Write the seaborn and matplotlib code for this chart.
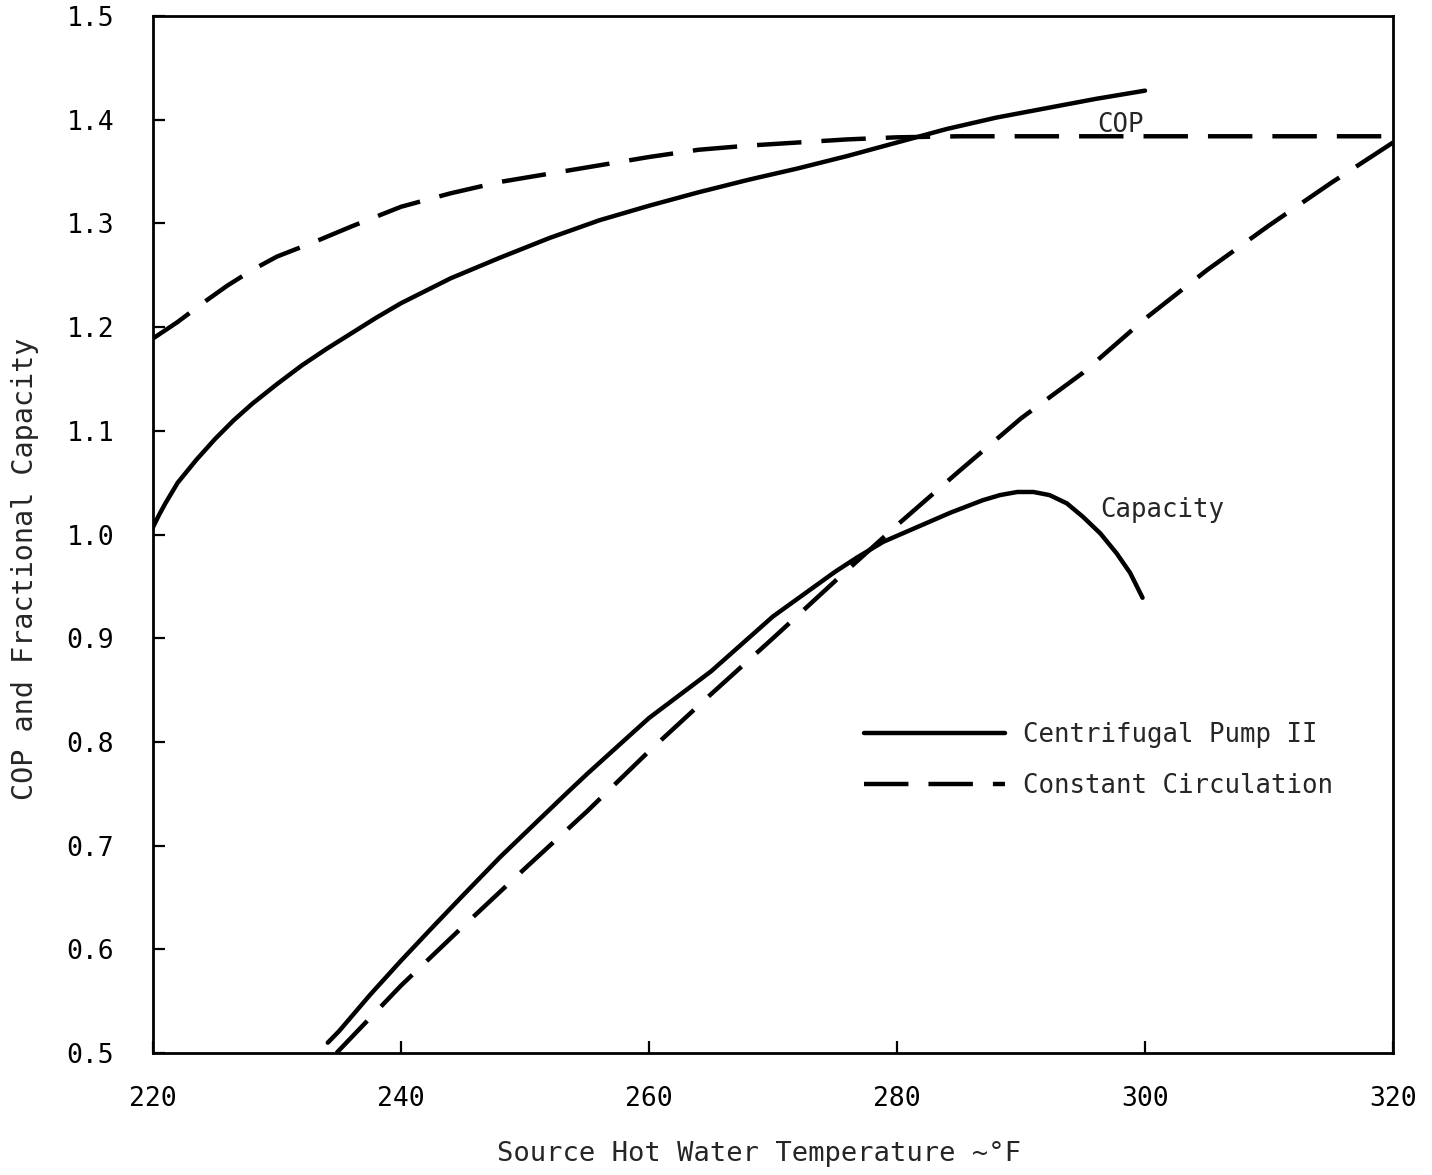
import numpy as np
import pandas as pd
import matplotlib
matplotlib.use("Agg")
import matplotlib.pyplot as plt
import seaborn as sns

# ---- data ----
cop_pump_x = [220, 220.5, 221, 222, 223.5, 225, 226.5, 228, 230, 232, 234, 236, 238, 240,
              244, 248, 252, 256, 260, 264, 268, 272, 276, 280, 284, 288, 292, 296, 300]
cop_pump_y = [1.007, 1.019, 1.030, 1.050, 1.072, 1.092, 1.110, 1.126, 1.145, 1.163, 1.179,
              1.194, 1.209, 1.223, 1.247, 1.267, 1.286, 1.303, 1.317, 1.330, 1.342, 1.353,
              1.365, 1.378, 1.391, 1.402, 1.411, 1.420, 1.428]

cop_const_x = [220, 222, 224, 226, 228, 230, 233, 236, 240, 244, 248, 252, 256, 260,
               264, 268, 272, 276, 280, 285, 290, 300, 310, 320]
cop_const_y = [1.189, 1.205, 1.223, 1.240, 1.255, 1.268, 1.282, 1.297, 1.316, 1.329, 1.340,
               1.348, 1.356, 1.364, 1.371, 1.375, 1.378, 1.381, 1.383, 1.384, 1.384, 1.384,
               1.384, 1.384]

cap_pump_x = [234.1, 235, 237.5, 240, 242.6, 245, 248, 250, 253.4, 255, 258.7, 260, 265,
              270, 275, 276.8, 278.9, 281.6, 284.3, 286.9, 288.3, 289.7, 291, 292.3, 293.7,
              295, 296.4, 297.7, 298.8, 299.8]
cap_pump_y = [0.510, 0.521, 0.556, 0.589, 0.622, 0.652, 0.689, 0.712, 0.751, 0.769, 0.809,
              0.823, 0.868, 0.921, 0.964, 0.978, 0.993, 1.007, 1.021, 1.033, 1.038, 1.041,
              1.041, 1.038, 1.030, 1.017, 1.001, 0.982, 0.963, 0.939]

cap_const_x = [234.8, 240, 245, 250, 255, 260, 265, 270, 275, 280, 285, 290, 295, 300,
               305, 310, 315, 320]
cap_const_y = [0.500, 0.565, 0.622, 0.678, 0.733, 0.791, 0.846, 0.900, 0.955, 1.009, 1.061,
               1.112, 1.156, 1.208, 1.255, 1.298, 1.339, 1.378]

series_labels = ["Centrifugal Pump II", "Constant Circulation"]
x_ticks = [220, 240, 260, 280, 300, 320]
y_ticks = [0.5, 0.6, 0.7, 0.8, 0.9, 1.0, 1.1, 1.2, 1.3, 1.4, 1.5]

# ---- style ----
sns.set_style("ticks")
plt.rcParams['font.family'] = ['DejaVu Sans Mono', 'DejaVu Sans']
plt.rcParams['lines.solid_joinstyle'] = 'round'
plt.rcParams['lines.solid_capstyle'] = 'round'

fig = plt.figure(figsize=(14.32, 11.75), dpi=100)
ax = fig.add_axes([0.1068, 0.1038, 0.866, 0.8826])

lw = 3.2
dash = (0, (10, 4.5))

sns.lineplot(x=cop_pump_x, y=cop_pump_y, ax=ax, color="black", lw=lw,
             label=series_labels[0], sort=False, estimator=None)
sns.lineplot(x=cop_const_x, y=cop_const_y, ax=ax, color="black", lw=lw,
             linestyle=dash, label=series_labels[1], sort=False, estimator=None)
sns.lineplot(x=cap_pump_x, y=cap_pump_y, ax=ax, color="black", lw=lw,
             sort=False, estimator=None, legend=False)
sns.lineplot(x=cap_const_x, y=cap_const_y, ax=ax, color="black", lw=lw,
             linestyle=dash, sort=False, estimator=None, legend=False)

ax.set_xlim(220, 320)
ax.set_ylim(0.5, 1.5)
ax.set_xticks(x_ticks)
ax.set_yticks(y_ticks)
ax.set_xticklabels([str(v) for v in x_ticks])
ax.set_yticklabels([f"{v:.1f}" for v in y_ticks])

for s in ax.spines.values():
    s.set_linewidth(2.0)
    s.set_color("black")

ax.tick_params(axis="both", direction="in", length=8.5, width=1.6,
               labelsize=19, colors="black")
ax.tick_params(axis="x", pad=24)
ax.tick_params(axis="y", pad=28)

ax.set_xlabel("Source Hot Water Temperature ~°F", fontsize=19.5)
ax.set_ylabel("COP and Fractional Capacity", fontsize=20.5)
ax.xaxis.set_label_coords(0.489, -0.085)
ax.yaxis.set_label_coords(-0.092, 0.467)

ax.text(298.0, 1.395, "COP", fontsize=18.5, ha="center", va="center")
ax.text(296.4, 1.024, "Capacity", fontsize=18.5, ha="left", va="center")

handles, labels = ax.get_legend_handles_labels()
ax.legend(handles, labels, loc="center left", bbox_to_anchor=(0.573, 0.282),
          frameon=False, fontsize=18.5, handlelength=5.5, handletextpad=0.7,
          labelspacing=0.95, borderpad=0, borderaxespad=0)

fig.savefig("out.png", dpi=100, facecolor="white")
